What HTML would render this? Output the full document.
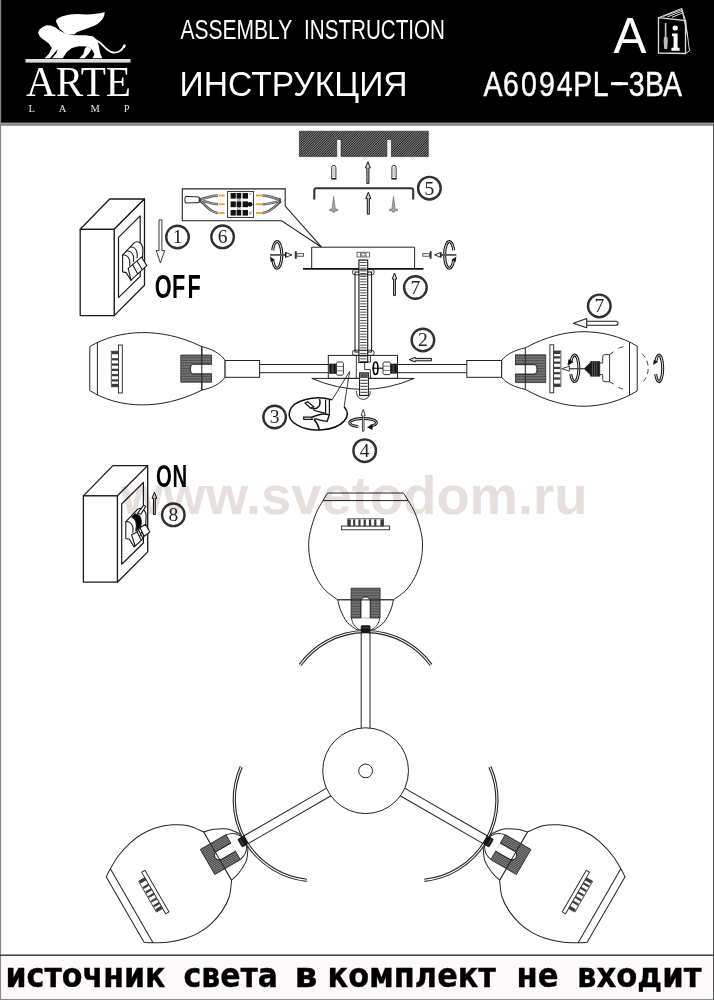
<!DOCTYPE html>
<html lang="ru">
<head>
<meta charset="utf-8">
<title>Assembly Instruction A6094PL-3BA</title>
<style>
html,body{margin:0;padding:0;background:#fff;}
body{width:714px;height:1000px;overflow:hidden;font-family:"Liberation Sans",sans-serif;}
svg{display:block;}
text{font-family:"Liberation Sans",sans-serif;}
.ser{font-family:"Liberation Serif",serif;}
.dj{font-family:"DejaVu Sans",sans-serif;}
.ln{fill:none;stroke:#111;stroke-width:1;}
.lt{fill:none;stroke:#222;stroke-width:0.8;}
.lk{fill:none;stroke:#000;stroke-width:1.4;}
</style>
</head>
<body>
<svg width="714" height="1000" viewBox="0 0 714 1000">
<!-- ===== header band ===== -->
<rect x="0" y="0" width="714" height="123" fill="#000"/>
<rect x="0" y="122.6" width="714" height="2.4" fill="#999"/>
<rect x="0" y="124.7" width="714" height="0.9" fill="#666"/>
<rect x="0" y="0" width="1.1" height="1000" fill="#888"/>
<!-- logo: winged lion -->
<g transform="translate(30,5) scale(0.14706)" fill="#fff" stroke="none">
  <path d="M55,188 L62,170 L85,150 L112,138 L140,140 L170,152 L200,172 L235,192 L300,205 L380,205 L430,214 L458,240 L468,280 L478,330 L492,362 L425,362 L438,335 L420,300 L385,282 L330,280 L285,292 L250,320 L222,362 L150,362 L178,330 L190,300 L170,322 L150,345 L135,362 L100,362 L130,330 L148,292 L128,262 L98,240 L75,222 L62,205 Z"/>
  <path d="M385,282 L420,300 L400,330 L370,362 L335,362 L362,335 L372,300 Z"/>
  <path d="M175,108 C190,82 250,62 320,62 C390,66 450,66 507,48 C510,80 485,118 440,140 C395,160 350,172 318,186 L300,200 L240,196 L200,160 Z"/>
  <path d="M440,238 C500,250 510,322 575,324 C610,322 632,300 640,272" fill="none" stroke="#fff" stroke-width="12"/>
  <ellipse cx="642" cy="280" rx="8" ry="14" transform="rotate(15 642 280)"/>
</g>
<rect x="25.5" y="59" width="105" height="3.6" fill="#ddd"/>
<text class="ser" x="26" y="95.8" font-size="43" fill="#fff" textLength="105" lengthAdjust="spacingAndGlyphs">ARTE</text>
<text class="ser" x="28.5" y="112.3" font-size="10.5" fill="#e8e8e8" textLength="101" lengthAdjust="spacing">LAMP</text>
<!-- titles -->
<text y="39.3" font-size="26.8" fill="#fff"><tspan x="180.4" textLength="111.5" lengthAdjust="spacingAndGlyphs">ASSEMBLY</tspan> <tspan x="304" textLength="141" lengthAdjust="spacingAndGlyphs">INSTRUCTION</tspan></text>
<text x="179.6" y="96" font-size="35.4" fill="#fff" textLength="228" lengthAdjust="spacingAndGlyphs">ИНСТРУКЦИЯ</text>
<g transform="translate(484,95.6) scale(0.79,1)"><text font-size="36" fill="#fff" stroke="#fff" stroke-width="0.45" text-anchor="middle" x="11.4 34.1 56.8 79.5 102.2 125.0 147.7 170.4 193.1 215.9 238.6" y="0 0 0 0 0 0 0 -2.6 0 0 0">A6094PL-3BA</text></g>
<rect x="611" y="82.2" width="17" height="2.9" fill="#fff"/>
<text x="613.4" y="53" font-size="50.5" fill="#fff" textLength="33" lengthAdjust="spacingAndGlyphs">A</text>
<!-- info booklet icon -->
<g fill="none" stroke="#ddd" stroke-width="1">
  <path d="M658.5,17.7 L685.5,20.5 L685.5,53.5 L658.5,53 Z" stroke-width="1.3"/>
  <path d="M658.5,17.7 L681.7,8.5 L685.5,20.5"/>
  <path d="M663,16.5 L681.7,9.8 M667.5,16.8 L682,11.3 M672,17.3 L682.5,13"/>
  <path d="M685.5,20.5 L689.5,50.8 L685.5,53.5"/>
  <path d="M681.7,8.5 L687.6,36"/>
</g>
<g fill="#fff" stroke="none">
  <circle cx="675.2" cy="28" r="2.6"/>
  <path d="M672,33.5 L677.6,33.5 L677.6,47.5 L679.6,48 L679.6,50.8 L671.4,50.8 L671.4,48 L673.6,47.5 L673.6,36.3 L672,36 Z"/>
  <rect x="664.8" y="23" width="1.6" height="14" fill="#ccc"/>
  <path d="M664,37 L667.4,37 L667.8,41 L667.2,49 L664.2,49 L663.6,41 Z" fill="#bbb"/>
</g>

<!-- ===== defs: hatch patterns ===== -->
<defs>
  <pattern id="hatch" width="20" height="1.7" patternUnits="userSpaceOnUse" patternTransform="rotate(-45)">
    <rect width="20" height="1.7" fill="#909090"/>
    <rect width="20" height="0.9" fill="#1c1c1c"/>
  </pattern>
  <pattern id="ribH" width="4" height="1.3" patternUnits="userSpaceOnUse">
    <rect width="4" height="1.3" fill="#9a9a9a"/>
    <rect width="4" height="0.7" fill="#2a2a2a"/>
  </pattern>
  <pattern id="ribV" width="1.3" height="4" patternUnits="userSpaceOnUse">
    <rect width="1.3" height="4" fill="#555"/>
    <rect width="0.8" height="4" fill="#111"/>
  </pattern>
  <pattern id="rod" width="8.8" height="2.75" patternUnits="userSpaceOnUse" x="358.9" y="258.5">
    <rect width="8.8" height="2.75" fill="#fff"/>
    <rect x="1.2" width="6.4" height="0.9" y="0.9" fill="#333"/>
  </pattern>
  <pattern id="rod2" width="8.8" height="3" patternUnits="userSpaceOnUse" x="359.6" y="372.8">
    <rect width="8.8" height="3" fill="#fff"/>
    <rect x="0.8" width="7.2" height="1" y="1" fill="#333"/>
  </pattern>
</defs>
<!-- ===== step 5: ceiling, plugs, bracket, screws ===== -->
<path d="M299.4,131.2 H428.3 V156.6 H391.3 V139.5 H386.9 V156.6 H341 V139.5 H336.8 V156.6 H299.4 Z" fill="url(#hatch)" stroke="#222" stroke-width="0.6"/>
<!-- plastic plugs -->
<g fill="#fff" stroke="#222" stroke-width="0.9">
  <path d="M331.7,178.6 V167.5 Q331.7,165.4 333.8,165.4 Q335.9,165.4 335.9,167.5 V178.6 Z"/>
  <path d="M391.9,178.6 V167.5 Q391.9,165.4 394,165.4 Q396.1,165.4 396.1,167.5 V178.6 Z"/>
</g>
<g stroke="#555" stroke-width="0.5">
  <path d="M332.6,168 h2.4 M332.6,170 h2.4 M332.6,172 h2.4 M332.6,174 h2.4 M332.6,176 h2.4"/>
  <path d="M392.8,168 h2.4 M392.8,170 h2.4 M392.8,172 h2.4 M392.8,174 h2.4 M392.8,176 h2.4"/>
  <path d="M331.2,178.8 h5.2 M391.4,178.8 h5.2" stroke="#111" stroke-width="1.2"/>
</g>
<!-- up arrows -->
<g fill="#d8d8d8" stroke="#111" stroke-width="1">
  <path d="M366.9,183.6 V167.9 H365.4 L367.9,161.8 L370.4,167.9 H368.9 V183.6 Z"/>
  <path d="M367.3,214.2 V198.5 H365.8 L368.3,192.3 L370.8,198.5 H369.3 V214.2 Z"/>
</g>
<!-- bracket -->
<path d="M314.3,199.4 V190.2 Q314.3,188.2 316.3,188.2 H411.2 Q413.2,188.2 413.2,190.2 V199.4" fill="none" stroke="#333" stroke-width="2.1"/>
<!-- screws (grey) -->
<g fill="#a8a8a8" stroke="#6a6a6a" stroke-width="0.7">
  <path d="M333.7,196.5 L335.3,209.2 H337.6 V210.8 H334.6 V212.2 H332.8 V210.8 H329.8 V209.2 H332.1 Z"/>
  <path d="M393.5,196.5 L395.1,209.2 H397.4 V210.8 H394.4 V212.2 H392.6 V210.8 H389.6 V209.2 H391.9 Z"/>
</g>
<!-- ===== step 6: wiring box ===== -->
<path d="M321.6,247.2 L285.2,206 V188.9 H182.3 V220.8 H281.6 Z" fill="#fff" stroke="#222" stroke-width="1.1" stroke-linejoin="miter"/>
<!-- cable + wires left -->
<g fill="none" stroke="#4a4a4a" stroke-width="2.5">
  <path d="M199,199.4 C206,198.6 210,195.6 218,195.5"/>
  <path d="M199,199.9 C206,201 210,204.2 218,204.2"/>
  <path d="M199,200.4 C205,203 209,212.6 218,212.9"/>
  <path d="M262.5,195.5 C270,195.7 275,198.6 281,200"/>
  <path d="M262.5,204.2 C270,204.2 275,202 281,200.6"/>
  <path d="M262.5,212.9 C271,212.6 276,204.6 281,201.2"/>
</g>
<g fill="none" stroke="#d0d0d0" stroke-width="0.8">
  <path d="M201,199.2 C206,198.6 210,195.6 218,195.5"/>
  <path d="M201,200.2 C206,201 210,204.2 218,204.2"/>
  <path d="M201,201.2 C205,203 209,212.6 218,212.9"/>
  <path d="M262.5,195.5 C270,195.7 275,198.6 279,199.6"/>
  <path d="M262.5,204.2 C270,204.2 275,202 279,200.9"/>
  <path d="M262.5,212.9 C271,212.6 276,204.6 279,202.2"/>
</g>
<path d="M185.4,196.4 L199.2,197 V202.6 L185.4,203 Q184.2,199.7 185.4,196.4 Z" fill="#fff" stroke="#222" stroke-width="1"/>
<g stroke="#eaa646" stroke-width="2" fill="none">
  <path d="M218.6,195.5 h6 M218.6,204.2 h6 M218.6,212.9 h6 M256,195.5 h6.5 M256,204.2 h6.5 M256,212.9 h6.5"/>
</g>
<!-- terminal block -->
<rect x="227.6" y="191.4" width="25.8" height="26" fill="#fff" stroke="#222" stroke-width="0.9"/>
<g fill="#111">
  <rect x="230.6" y="193" width="5.2" height="5.6"/><rect x="236.6" y="193" width="4.6" height="5.6"/><rect x="242.6" y="193" width="5.4" height="5.6"/>
  <rect x="230.6" y="201.4" width="5.2" height="5.8"/><rect x="236.6" y="201.4" width="4.6" height="5.8"/><rect x="242.6" y="201.4" width="5.4" height="5.8"/>
  <rect x="230.6" y="210" width="5.2" height="5.6"/><rect x="236.6" y="210" width="4.6" height="5.6"/><rect x="242.6" y="210" width="5.4" height="5.6"/>
  <circle cx="250" cy="204.3" r="2.4"/>
</g>
<g fill="#fff" stroke="#111" stroke-width="0.5">
  <circle cx="238.9" cy="200" r="1.3"/><circle cx="238.9" cy="208.6" r="1.3"/>
</g>
<path d="M249,194.5 l2.6,-1.4 M249,213 l2.6,-1.4 M249,214.6 l2.6,-1.4" stroke="#333" stroke-width="0.6" fill="none"/>
<!-- ===== canopy ===== -->
<path d="M311.7,268.6 V247.2 H414.6 V268.6" fill="#fff" stroke="#222" stroke-width="1"/>
<path d="M303,268.9 H423.5" stroke="#111" stroke-width="1.7" fill="none"/>
<!-- nut inside canopy -->
<g fill="#fff" stroke="#333" stroke-width="0.7">
  <rect x="357" y="252.2" width="12.6" height="4.8"/>
  <path d="M360.6,252.2 v4.8 M366,252.2 v4.8"/>
  <ellipse cx="363.3" cy="254.6" rx="2" ry="1.6"/>
</g>
<!-- rotate + screw, left -->
<g><path d="M272.69,250.30 A4.70,13.30 0 1 1 272.64,259.10" fill="none" stroke="#111" stroke-width="3.0"/><path d="M272.69,250.30 A4.70,13.30 0 1 1 272.64,259.10" fill="none" stroke="#fff" stroke-width="0.9"/><path d="M270.0,256.5 L274.6,259.7 L270.8,261.9 Z" fill="#111"/>
<path d="M270,254.9 H286" stroke="#555" stroke-width="1.8" fill="none"/>
<path d="M286,252.6 L291.8,254.9 L286,257.2 Z" fill="#fff" stroke="#111" stroke-width="0.9"/>
<path d="M285.4,252 v5.8" stroke="#111" stroke-width="1" fill="none"/>
<path d="M295.8,251.2 V258.7" stroke="#333" stroke-width="2" fill="none"/>
<rect x="296.9" y="253.7" width="6.7" height="2.5" fill="#fff" stroke="#333" stroke-width="0.8"/></g>
<!-- rotate + screw, right (mirrored) -->
<g transform="translate(726.4,0) scale(-1,1)"><path d="M272.69,250.30 A4.70,13.30 0 1 1 272.64,259.10" fill="none" stroke="#111" stroke-width="3.0"/><path d="M272.69,250.30 A4.70,13.30 0 1 1 272.64,259.10" fill="none" stroke="#fff" stroke-width="0.9"/><path d="M270.0,256.5 L274.6,259.7 L270.8,261.9 Z" fill="#111"/>
<path d="M270,254.9 H286" stroke="#555" stroke-width="1.8" fill="none"/>
<path d="M286,252.6 L291.8,254.9 L286,257.2 Z" fill="#fff" stroke="#111" stroke-width="0.9"/>
<path d="M285.4,252 v5.8" stroke="#111" stroke-width="1" fill="none"/>
<path d="M295.8,251.2 V258.7" stroke="#333" stroke-width="2" fill="none"/>
<rect x="296.9" y="253.7" width="6.7" height="2.5" fill="#fff" stroke="#333" stroke-width="0.8"/></g>
<!-- arrow 7 up -->
<path d="M393.6,295.6 V279 H392.2 L394.5,273 L396.8,279 H395.4 V295.6 Z" fill="#d8d8d8" stroke="#111" stroke-width="1"/>
<!-- ===== threaded rod + tube ===== -->
<rect x="355" y="272" width="16.6" height="80" fill="#fff" stroke="#111" stroke-width="1"/>
<rect x="358.9" y="260" width="8.8" height="102.5" fill="url(#rod)" stroke="#111" stroke-width="1.1"/>
<rect x="352.4" y="269.6" width="21.8" height="5.2" rx="2.6" fill="none" stroke="#222" stroke-width="0.9"/>
<rect x="352.4" y="350.2" width="21.8" height="5.2" rx="2.6" fill="none" stroke="#222" stroke-width="0.9"/>
<!-- ===== center body ===== -->
<path d="M311.8,378.4 H414.3 Q363,400.4 311.8,378.4 Z" fill="#fff" stroke="#222" stroke-width="1"/>
<rect x="328.3" y="355.4" width="69.2" height="23" fill="none" stroke="#222" stroke-width="1"/>
<path d="M356.3,355.4 V378.4 M370.4,355.4 V362 H364.7 V369.6 H370.4 V378.4" fill="none" stroke="#222" stroke-width="0.9"/>
<!-- arms -->
<path d="M259.6,364.5 H328.3 M259.6,372.7 H328.3 M397.5,364.5 H466.8 M397.5,372.7 H466.8" fill="none" stroke="#222" stroke-width="1"/>
<!-- nuts + threads -->
<rect x="329.5" y="364" width="7" height="9.4" fill="url(#ribV)" stroke="#111" stroke-width="0.6"/>
<rect x="390.6" y="364" width="7" height="9.2" fill="url(#ribV)" stroke="#111" stroke-width="0.6"/>
<g fill="#fff" stroke="#222" stroke-width="0.9">
  <path d="M337.4,362 H342.4 L343.4,363.4 V373.8 L342.4,375.2 H337.4 L336.4,373.8 V363.4 Z"/>
  <path d="M384,362 H389.6 L390.6,363.4 V373.2 L389.6,374.6 H384 L383,373.2 V363.4 Z"/>
  <path d="M336.4,366.4 H343.4 M336.4,370.8 H343.4 M383,366.2 H390.6 M383,370.4 H390.6" stroke-width="0.6"/>
</g>
<ellipse cx="375.6" cy="368.2" rx="2.3" ry="6.2" fill="none" stroke="#000" stroke-width="1.7"/>
<path d="M372,368.2 H383" stroke="#000" stroke-width="1.1"/>
<!-- lower screw + cap -->
<path d="M356.6,391 V392.6 A6.8,6.8 0 0 0 370.2,392.6 V391" fill="#fff" stroke="#222" stroke-width="0.9"/>
<rect x="359.6" y="372.8" width="8.8" height="22.8" fill="url(#rod2)" stroke="#111" stroke-width="1"/>
<rect x="360.2" y="373.2" width="7.6" height="4.6" fill="#555"/>
<!-- callout to 3 -->
<path d="M349.6,371.5 L332,399.9 M349.6,371.5 L344.1,406.8" fill="none" stroke="#222" stroke-width="0.9"/>
<!-- arrow 2 (left) -->
<path d="M431.4,358.4 H415.2 V357.2 L409.2,359.6 L415.2,362 V360.8 H431.4 Z" fill="#e0e0e0" stroke="#111" stroke-width="1"/>
<!-- ===== detail oval 3 ===== -->
<path d="M332,399.9 A29,16 0 1 0 344.1,406.8" fill="#fff" stroke="#111" stroke-width="1.5"/>
<g fill="none" stroke="#111" stroke-width="1.25">
  <path d="M325.6,399.6 V413.4 M329.4,399.2 V413.8"/>
  <path d="M305.2,403.2 L311,408.4 L313.6,406.6 L307.6,401.8 Z" fill="#fff"/>
  <path d="M319.6,399.2 C320.6,403.6 319.6,407 316.6,408.2 C314.4,409 312.6,408.4 311,407.4" stroke-width="1.5"/>
  <path d="M313,409.6 C316,411.6 320,412.2 325.6,413.2"/>
  <path d="M303.6,417 H311.6 L312.2,419.4 H303.8 Z" fill="#fff"/>
  <path d="M312,417.2 C316,415.6 320,413.8 324,414 C327,414.2 329,414.6 329.4,414.6 C328.6,417 328,419.4 327,421.4 C323,420.8 318,419.6 314.4,418.6" stroke-width="1.4"/>
  <path d="M313.8,419.2 C316.6,422 318.4,425.6 319.4,429.8" stroke-width="1.5"/>
</g>
<!-- ===== rotate symbol 4 ===== -->
<g fill="none" stroke="#111">
  <path d="M358.2,426.6 A13.4,4.2 0 1 1 370.4,426.2" stroke-width="2.9"/>
  <path d="M358.2,426.6 A13.4,4.2 0 1 1 370.4,426.2" stroke="#fff" stroke-width="0.8"/>
  <path d="M367.6,427.2 L372.4,424.4 L372.2,429.6 Z" fill="#111" stroke-width="0.6"/>
  <path d="M362.4,431.2 V415.4 H361.2 L363.2,409.4 L365.2,415.4 H364 V431.2 Z" fill="#fff" stroke-width="0.8"/>
</g>

<!-- ===== switch OFF (step 1) ===== -->
<g fill="#fff" stroke="#1a1a1a" stroke-width="1.3" stroke-linejoin="round">
  <path d="M80.2,229.3 L109.7,199 H144.5 L114.2,229.3 Z"/>
  <path d="M114.2,229.3 L144.5,199 V285.3 L114.2,315.6 Z"/>
  <rect x="80.2" y="229.3" width="34" height="86.3"/>
  <path d="M118.5,237.4 L140.2,215.9 V276.4 L118.5,297.6 Z" stroke-width="1.2"/>
</g>
<g fill="#fff" stroke="#1a1a1a" stroke-width="1.1" stroke-linejoin="round">
  <path d="M122.6,255.1 L133.8,243.2 C136,241 139,241.4 141,243.6 C142.6,245.6 143.2,248 142.8,251 L142.6,257.6 L131,280.3 L126.1,272.6 L122.6,271.9 Z"/>
  <path d="M122.6,255.1 C125.6,254.6 128.4,256.6 129.4,259.6 C130,261.6 130,263.6 129.6,266" fill="none"/>
  <path d="M126.4,251.2 C129.4,250.6 132.2,252.6 133.2,255.6 C133.8,257.6 133.8,259.6 133.4,262" fill="none"/>
  <path d="M130,247.2 C133,246.6 135.8,248.6 136.8,251.6 C137.4,253.6 137.4,255.6 137,258" fill="none"/>
  <path d="M128.2,268.4 L141.5,257.2 L146.8,265.6 L133.1,278.2 L131,280.3 Z"/>
  <path d="M132.6,264.7 L137.8,274 M137,261 L142.3,269.8" fill="none"/>
</g>
<!-- arrow 1 (down) -->
<path d="M159,219.9 H161.9 V250.6 H164.7 L160.4,262.9 L156.2,250.6 H159 Z" fill="#fff" stroke="#222" stroke-width="0.9"/>
<g transform="scale(0.67,1)"><text x="243.4 266.6 289.9" y="297.7" font-size="32.4" font-weight="bold" text-anchor="middle" fill="#000">OFF</text></g>
<!-- ===== switch ON (step 8) ===== -->
<g transform="translate(3.2,266.6)">
<g fill="#fff" stroke="#1a1a1a" stroke-width="1.3" stroke-linejoin="round">
  <path d="M80.2,229.3 L109.7,199 H144.5 L114.2,229.3 Z"/>
  <path d="M114.2,229.3 L144.5,199 V285.3 L114.2,315.6 Z"/>
  <rect x="80.2" y="229.3" width="34" height="86.3"/>
  <path d="M118.5,237.4 L140.2,215.9 V276.4 L118.5,297.6 Z" stroke-width="1.2" fill="none"/>
</g>
<g fill="#fff" stroke="#1a1a1a" stroke-width="1.1" stroke-linejoin="round">
  <path d="M122.6,255.1 L133.8,243.2 C136,241 139,241.4 141,243.6 C142.6,245.6 143.2,248 142.8,251 L142.6,257.6 L131,280.3 L126.1,272.6 L122.6,271.9 Z"/>
  <path d="M122.6,255.1 C125.6,254.6 128.4,256.6 129.4,259.6 C130,261.6 130,263.6 129.6,266" fill="none"/>
  <path d="M131.6,247.4 C135,247 137.6,250 138,253.6 C138.2,256 138,258 137.4,260 L132.6,264.4 C133.6,259 133.4,252 128.6,250.6 Z" fill="#000"/>
  <path d="M134.4,246.6 L140.6,238.6 L142.6,239.8 L137.6,247.6 Z"/>
  <path d="M128.4,268.2 L134,265.4 L138.2,273.8 L131.9,279.4 Z"/>
  <path d="M136.8,261.2 L142.4,257.7 L146.6,265.4 L141,269.6 Z"/>
  <path d="M134,265.4 L136.8,261.2 M138.2,273.8 L141,269.6 M135.6,264 L139.8,272 " fill="none"/>
</g>
</g>
<!-- arrow 8 (up) -->
<path d="M153.5,514.5 V498.4 H152 L154.4,492.1 L156.8,498.4 H155.3 V514.5 Z" fill="#d8d8d8" stroke="#111" stroke-width="1"/>
<g transform="scale(0.65,1)"><text x="252.3 276.5" y="486.9" font-size="31.3" font-weight="bold" text-anchor="middle" fill="#000">ON</text></g>

<!-- ===== left shade (side view) ===== -->
<g fill="none" stroke="#222" stroke-width="1">
  <path d="M201.8,346.6 C180,336 160,332.4 141.6,332.6 C122,332.8 104,338 89.8,346.6 V390.6 C104,399.6 122,404.8 141.6,404.9 C160,405 180,401 201.8,390.2" fill="#fff"/>
  <path d="M97.4,342.4 V394.8"/>
  <path d="M201.8,346.6 V390.2"/>
  <path d="M201.8,346.6 C212,349 220.6,353.6 225.1,360.5 V377.3 C220.6,383.6 212,388 201.8,390.2"/>
  <rect x="225.1" y="360.5" width="34.5" height="16.8" fill="#fff"/>
</g>
<!-- socket -->
<path d="M180.8,355 H211.6 V364.3 H193.4 A2.9,4.75 0 0 0 193.4,373.8 H211.6 V382.2 H180.8 Z" fill="#8c8c8c" stroke="#111" stroke-width="0.7"/>
<path d="M180.8,355.8 H211.6 M180.8,357.4 H211.6 M180.8,359.0 H211.6 M180.8,360.6 H211.6 M180.8,362.2 H211.6 M180.8,363.8 H211.6 M180.8,365.4 H211.6 M180.8,367.0 H211.6 M180.8,368.6 H211.6 M180.8,370.2 H211.6 M180.8,371.8 H211.6 M180.8,373.4 H211.6 M180.8,375.0 H211.6 M180.8,376.6 H211.6 M180.8,378.2 H211.6 M180.8,379.8 H211.6 M180.8,381.4 H211.6 " stroke="#333" stroke-width="0.7" fill="none"/>
<path d="M211.6,364.3 H193.4 A2.9,4.75 0 0 0 193.4,373.8 H211.6" fill="#fff" stroke="#111" stroke-width="0.8"/>
<path d="M201.8,346.6 V390.2" fill="none" stroke="#222" stroke-width="1"/>
<!-- LED module -->
<g transform="translate(118.5,369) rotate(-90)"><rect x="-24" y="0" width="48" height="3.8" fill="#fff" stroke="#222" stroke-width="0.9"/><rect x="-17.8" y="-7.2" width="35.6" height="7.2" fill="#fff" stroke="#333" stroke-width="0.8"/><rect x="-17.80" y="-6.6" width="3.0" height="6.6" fill="#3a3a3a"/><rect x="-12.52" y="-6.6" width="2.2" height="6.6" fill="#3a3a3a"/><rect x="-7.24" y="-6.6" width="2.2" height="6.6" fill="#3a3a3a"/><rect x="-1.96" y="-6.6" width="2.2" height="6.6" fill="#3a3a3a"/><rect x="3.32" y="-6.6" width="2.2" height="6.6" fill="#3a3a3a"/><rect x="8.60" y="-6.6" width="2.2" height="6.6" fill="#3a3a3a"/><rect x="14.80" y="-6.6" width="3.0" height="6.6" fill="#3a3a3a"/></g>
<!-- ===== right shade (side view) ===== -->
<g fill="none" stroke="#222" stroke-width="1">
  <path d="M525.3,347.8 C546,336.6 566,331.8 583,331.7 C603,331.6 622,337 637.2,346.2 V390.9 C622,400.4 603,406.2 583,406.3 C566,406.2 546,401 525.3,389.4" fill="#fff"/>
  <path d="M629.5,342.4 V395"/>
  <path d="M525.3,347.8 C515,350 506,354.4 501.6,360.5 V377.3 C506,383 515,387.4 525.3,389.4"/>
  <rect x="466.8" y="360.5" width="34.8" height="16.8" fill="#fff"/>
</g>
<!-- socket -->
<path d="M545.7,354.8 H515.5 V364.7 H534 A2.9,4.65 0 0 1 534,374 H515.5 V382.6 H545.7 Z" fill="#8c8c8c" stroke="#111" stroke-width="0.7"/>
<path d="M515.5,355.6 H545.7 M515.5,357.2 H545.7 M515.5,358.8 H545.7 M515.5,360.4 H545.7 M515.5,362.0 H545.7 M515.5,363.6 H545.7 M515.5,365.2 H545.7 M515.5,366.8 H545.7 M515.5,368.4 H545.7 M515.5,370.0 H545.7 M515.5,371.6 H545.7 M515.5,373.2 H545.7 M515.5,374.8 H545.7 M515.5,376.4 H545.7 M515.5,378.0 H545.7 M515.5,379.6 H545.7 M515.5,381.2 H545.7 " stroke="#333" stroke-width="0.7" fill="none"/>
<path d="M515.5,364.7 H534 A2.9,4.65 0 0 1 534,374 H515.5" fill="#fff" stroke="#111" stroke-width="0.8"/>
<path d="M525.3,347.8 V389.4" fill="none" stroke="#222" stroke-width="1"/>
<!-- LED module -->
<g transform="translate(553.7,368.8) rotate(90)"><rect x="-24" y="0" width="48" height="3.8" fill="#fff" stroke="#222" stroke-width="0.9"/><rect x="-17.8" y="-7.2" width="35.6" height="7.2" fill="#fff" stroke="#333" stroke-width="0.8"/><rect x="-17.80" y="-6.6" width="3.0" height="6.6" fill="#3a3a3a"/><rect x="-12.52" y="-6.6" width="2.2" height="6.6" fill="#3a3a3a"/><rect x="-7.24" y="-6.6" width="2.2" height="6.6" fill="#3a3a3a"/><rect x="-1.96" y="-6.6" width="2.2" height="6.6" fill="#3a3a3a"/><rect x="3.32" y="-6.6" width="2.2" height="6.6" fill="#3a3a3a"/><rect x="8.60" y="-6.6" width="2.2" height="6.6" fill="#3a3a3a"/><rect x="14.80" y="-6.6" width="3.0" height="6.6" fill="#3a3a3a"/></g>
<!-- small arrow + rotate -->
<g fill="none" stroke="#111">
<path d="M570.74,362.50 A4.30,13.20 0 1 1 570.74,374.10" fill="none" stroke="#111" stroke-width="3.0"/><path d="M570.74,362.50 A4.30,13.20 0 1 1 570.74,374.10" fill="none" stroke="#fff" stroke-width="0.9"/><path d="M568.1,365.1 L572.7,361.9 L568.9,359.7 Z" fill="#111"/>
  <path d="M568,368.7 H584" stroke="#444" stroke-width="1.3"/>
  <path d="M569.4,366.2 L561.8,368.7 L569.4,371.2 Z" fill="#fff" stroke-width="0.8"/>
</g>
<!-- bulb base + neck -->
<path d="M584.1,368.7 L590.6,362.4 V361.5 H599.8 V376.2 H590.6 V375 Z" fill="#1a1a1a" stroke="#111" stroke-width="0.6"/>
<path d="M592.4,361.5 V376.2 M594.6,361.5 V376.2 M596.8,361.5 V376.2" stroke="#999" stroke-width="0.5" fill="none"/>
<g fill="#fff" stroke="#222" stroke-width="0.9">
  <path d="M599.8,363 H602.7 V357 Q602.7,354.6 605,354.6 H609.6 L613.5,351.7 M609.6,354.6 V381.7 M613.5,384 L609.6,381.7 H605 Q602.7,381.7 602.7,379.4 V374.6 H599.8"/>
</g>
<!-- dashed bulb glass -->
<g fill="none" stroke="#333" stroke-width="0.9" stroke-dasharray="5 3.6">
  <path d="M618.4,348.3 C621,347.2 623.6,346.4 626.3,345.8"/>
  <path d="M618.4,387.5 C621,388.6 623.6,389.4 626.3,390"/>
  <path d="M642,353.6 C646.4,358 648.2,363 648.2,368.3 C648.2,373.6 646.4,378.6 642,383"/>
</g>
<!-- rotate symbol right -->
<path d="M655.68,362.50 A3.70,13.20 0 1 1 655.68,374.10" fill="none" stroke="#111" stroke-width="3.0"/><path d="M655.68,362.50 A3.70,13.20 0 1 1 655.68,374.10" fill="none" stroke="#fff" stroke-width="0.9"/><path d="M653.1,365.1 L657.7,361.9 L653.9,359.7 Z" fill="#111"/>
<!-- arrow 7 (left) -->
<path d="M586.7,321.3 H616 Q618,321.3 618,323.3 Q618,325.3 616,325.3 H586.7" fill="#fff" stroke="#222" stroke-width="1.1"/>
<path d="M573.4,323.2 L586.7,318.6 V327.8 Z" fill="#fff" stroke="#222" stroke-width="1.1" stroke-linejoin="round"/>

<!-- ===== bottom: three-arm top view ===== -->
<g transform="translate(365.6,770.7) rotate(0)">
  <path d="M-66.4,-106.3 A81.9,81.9 0 0 1 66.4,-106.3" fill="none" stroke="#222" stroke-width="1.1"/>
  <path d="M-64.7,-105.0 A79.8,79.8 0 0 1 64.7,-105.0" fill="none" stroke="#222" stroke-width="1.1"/>
</g>
<g transform="translate(365.6,770.7) rotate(120)">
  <path d="M-66.4,-106.3 A81.9,81.9 0 0 1 66.4,-106.3" fill="none" stroke="#222" stroke-width="1.1"/>
  <path d="M-64.7,-105.0 A79.8,79.8 0 0 1 64.7,-105.0" fill="none" stroke="#222" stroke-width="1.1"/>
</g>
<g transform="translate(365.6,770.7) rotate(240)">
  <path d="M-66.4,-106.3 A81.9,81.9 0 0 1 66.4,-106.3" fill="none" stroke="#222" stroke-width="1.1"/>
  <path d="M-64.7,-105.0 A79.8,79.8 0 0 1 64.7,-105.0" fill="none" stroke="#222" stroke-width="1.1"/>
</g>
<g transform="translate(365.6,770.7) rotate(0)">
  <path d="M-4.4,-138.3 V-42.4 M4.4,-138.3 V-42.4" fill="none" stroke="#222" stroke-width="1"/>
  <path d="M-37.9,-277.7 C-38.7,-276.4 -40.6,-273.5 -42.6,-270.1 C-44.6,-266.7 -47.6,-262.2 -49.7,-257.1 C-51.8,-252.0 -54.1,-244.4 -55.3,-239.2 C-56.5,-234.0 -56.9,-230.6 -56.9,-225.7 C-56.9,-220.8 -56.5,-215.2 -55.3,-210.0 C-54.1,-204.8 -52.1,-199.2 -49.7,-194.3 C-47.3,-189.5 -44.4,-184.8 -40.8,-180.9 C-37.1,-177.0 -30.0,-172.5 -27.8,-170.8 L27.8,-170.8 C30.0,-172.5 37.1,-177.0 40.8,-180.9 C44.4,-184.8 47.3,-189.5 49.7,-194.3 C52.1,-199.2 54.1,-204.8 55.3,-210.0 C56.5,-215.2 56.9,-220.8 56.9,-225.7 C56.9,-230.6 56.5,-234.0 55.3,-239.2 C54.1,-244.4 51.8,-252.0 49.7,-257.1 C47.6,-262.2 44.6,-266.7 42.6,-270.1 C40.6,-273.5 38.7,-276.4 37.9,-277.7 Z" fill="#fff" stroke="#222" stroke-width="1"/>
  <path d="M-42.6,-270.1 H42.6" fill="none" stroke="#222" stroke-width="1"/>
  <path d="M-27.8,-170.8 C-27.4,-169.1 -26.7,-164.4 -25.1,-160.7 C-23.5,-157.0 -21.1,-151.7 -18.4,-148.4 C-15.6,-145.1 -10.2,-142.1 -8.6,-140.8 L8.6,-140.8 C10.2,-142.1 15.6,-145.1 18.4,-148.4 C21.1,-151.7 23.5,-157.0 25.1,-160.7 C26.7,-164.4 27.4,-169.1 27.8,-170.8" fill="#fff" stroke="#222" stroke-width="1"/>
  <path d="M-14.5,-182.5 H14.5 V-152.9 H4.6 V-169.1 A4.6,4.6 0 0 0 -4.6,-169.1 V-152.9 H-14.5 Z" fill="#8c8c8c" stroke="#111" stroke-width="0.7"/>
  <path d="M-14.5,-181.7 H14.5 M-14.5,-180.1 H14.5 M-14.5,-178.5 H14.5 M-14.5,-176.9 H14.5 M-14.5,-175.3 H14.5 M-14.5,-173.7 H14.5 M-14.5,-172.1 H14.5 M-14.5,-170.5 H14.5 M-14.5,-168.9 H14.5 M-14.5,-167.3 H14.5 M-14.5,-165.7 H14.5 M-14.5,-164.1 H14.5 M-14.5,-162.5 H14.5 M-14.5,-160.9 H14.5 M-14.5,-159.3 H14.5 M-14.5,-157.7 H14.5 M-14.5,-156.1 H14.5 M-14.5,-154.5 H14.5 M-14.5,-152.9 H14.5 " fill="none" stroke="#333" stroke-width="0.7"/>
  <path d="M-4.6,-152.9 V-169.1 A4.6,4.6 0 0 1 4.6,-169.1 V-152.9" fill="#fff" stroke="#111" stroke-width="0.8"/>
  <path d="M-27.8,-170.8 H27.8" fill="none" stroke="#222" stroke-width="1"/>
  <path d="M-14.1,-152.9 C-13.6,-147.6 -10.6,-143.4 -6.4,-141.2 M14.1,-152.9 C13.6,-147.6 10.6,-143.4 6.4,-141.2" fill="none" stroke="#222" stroke-width="0.9"/>
  <rect x="-4.5" y="-145.1" width="9" height="6.9" rx="1" fill="#161616" stroke="#111" stroke-width="0.6"/>
  <path d="M-3.4,-143 H3.4" stroke="#777" stroke-width="0.5" fill="none"/>
  <g transform="translate(0,-244.7)"><rect x="-24" y="0" width="48" height="3.8" fill="#fff" stroke="#222" stroke-width="0.9"/><rect x="-17.8" y="-7.2" width="35.6" height="7.2" fill="#fff" stroke="#333" stroke-width="0.8"/><rect x="-17.80" y="-6.6" width="3.0" height="6.6" fill="#3a3a3a"/><rect x="-12.52" y="-6.6" width="2.2" height="6.6" fill="#3a3a3a"/><rect x="-7.24" y="-6.6" width="2.2" height="6.6" fill="#3a3a3a"/><rect x="-1.96" y="-6.6" width="2.2" height="6.6" fill="#3a3a3a"/><rect x="3.32" y="-6.6" width="2.2" height="6.6" fill="#3a3a3a"/><rect x="8.60" y="-6.6" width="2.2" height="6.6" fill="#3a3a3a"/><rect x="14.80" y="-6.6" width="3.0" height="6.6" fill="#3a3a3a"/></g>
</g>
<g transform="translate(365.6,770.7) rotate(120)">
  <path d="M-4.4,-138.3 V-42.4 M4.4,-138.3 V-42.4" fill="none" stroke="#222" stroke-width="1"/>
  <path d="M-37.9,-277.7 C-38.7,-276.4 -40.6,-273.5 -42.6,-270.1 C-44.6,-266.7 -47.6,-262.2 -49.7,-257.1 C-51.8,-252.0 -54.1,-244.4 -55.3,-239.2 C-56.5,-234.0 -56.9,-230.6 -56.9,-225.7 C-56.9,-220.8 -56.5,-215.2 -55.3,-210.0 C-54.1,-204.8 -52.1,-199.2 -49.7,-194.3 C-47.3,-189.5 -44.4,-184.8 -40.8,-180.9 C-37.1,-177.0 -30.0,-172.5 -27.8,-170.8 L27.8,-170.8 C30.0,-172.5 37.1,-177.0 40.8,-180.9 C44.4,-184.8 47.3,-189.5 49.7,-194.3 C52.1,-199.2 54.1,-204.8 55.3,-210.0 C56.5,-215.2 56.9,-220.8 56.9,-225.7 C56.9,-230.6 56.5,-234.0 55.3,-239.2 C54.1,-244.4 51.8,-252.0 49.7,-257.1 C47.6,-262.2 44.6,-266.7 42.6,-270.1 C40.6,-273.5 38.7,-276.4 37.9,-277.7 Z" fill="#fff" stroke="#222" stroke-width="1"/>
  <path d="M-42.6,-270.1 H42.6" fill="none" stroke="#222" stroke-width="1"/>
  <path d="M-27.8,-170.8 C-27.4,-169.1 -26.7,-164.4 -25.1,-160.7 C-23.5,-157.0 -21.1,-151.7 -18.4,-148.4 C-15.6,-145.1 -10.2,-142.1 -8.6,-140.8 L8.6,-140.8 C10.2,-142.1 15.6,-145.1 18.4,-148.4 C21.1,-151.7 23.5,-157.0 25.1,-160.7 C26.7,-164.4 27.4,-169.1 27.8,-170.8" fill="#fff" stroke="#222" stroke-width="1"/>
  <path d="M-14.5,-182.5 H14.5 V-152.9 H4.6 V-169.1 A4.6,4.6 0 0 0 -4.6,-169.1 V-152.9 H-14.5 Z" fill="#8c8c8c" stroke="#111" stroke-width="0.7"/>
  <path d="M-13.7,-182.5 V-152.9 M-12.1,-182.5 V-152.9 M-10.5,-182.5 V-152.9 M-8.9,-182.5 V-152.9 M-7.3,-182.5 V-152.9 M-5.7,-182.5 V-152.9 M-4.1,-182.5 V-152.9 M-2.5,-182.5 V-152.9 M-0.9,-182.5 V-152.9 M0.7,-182.5 V-152.9 M2.3,-182.5 V-152.9 M3.9,-182.5 V-152.9 M5.5,-182.5 V-152.9 M7.1,-182.5 V-152.9 M8.7,-182.5 V-152.9 M10.3,-182.5 V-152.9 M11.9,-182.5 V-152.9 M13.5,-182.5 V-152.9 " fill="none" stroke="#333" stroke-width="0.7"/>
  <path d="M-4.6,-152.9 V-169.1 A4.6,4.6 0 0 1 4.6,-169.1 V-152.9" fill="#fff" stroke="#111" stroke-width="0.8"/>
  <path d="M-27.8,-170.8 H27.8" fill="none" stroke="#222" stroke-width="1"/>
  <path d="M-14.1,-152.9 C-13.6,-147.6 -10.6,-143.4 -6.4,-141.2 M14.1,-152.9 C13.6,-147.6 10.6,-143.4 6.4,-141.2" fill="none" stroke="#222" stroke-width="0.9"/>
  <rect x="-4.5" y="-145.1" width="9" height="6.9" rx="1" fill="#161616" stroke="#111" stroke-width="0.6"/>
  <path d="M-3.4,-143 H3.4" stroke="#777" stroke-width="0.5" fill="none"/>
  <g transform="translate(0,-244.7)"><rect x="-24" y="0" width="48" height="3.8" fill="#fff" stroke="#222" stroke-width="0.9"/><rect x="-17.8" y="-7.2" width="35.6" height="7.2" fill="#fff" stroke="#333" stroke-width="0.8"/><rect x="-17.80" y="-6.6" width="3.0" height="6.6" fill="#3a3a3a"/><rect x="-12.52" y="-6.6" width="2.2" height="6.6" fill="#3a3a3a"/><rect x="-7.24" y="-6.6" width="2.2" height="6.6" fill="#3a3a3a"/><rect x="-1.96" y="-6.6" width="2.2" height="6.6" fill="#3a3a3a"/><rect x="3.32" y="-6.6" width="2.2" height="6.6" fill="#3a3a3a"/><rect x="8.60" y="-6.6" width="2.2" height="6.6" fill="#3a3a3a"/><rect x="14.80" y="-6.6" width="3.0" height="6.6" fill="#3a3a3a"/></g>
</g>
<g transform="translate(365.6,770.7) rotate(240)">
  <path d="M-4.4,-138.3 V-42.4 M4.4,-138.3 V-42.4" fill="none" stroke="#222" stroke-width="1"/>
  <path d="M-37.9,-277.7 C-38.7,-276.4 -40.6,-273.5 -42.6,-270.1 C-44.6,-266.7 -47.6,-262.2 -49.7,-257.1 C-51.8,-252.0 -54.1,-244.4 -55.3,-239.2 C-56.5,-234.0 -56.9,-230.6 -56.9,-225.7 C-56.9,-220.8 -56.5,-215.2 -55.3,-210.0 C-54.1,-204.8 -52.1,-199.2 -49.7,-194.3 C-47.3,-189.5 -44.4,-184.8 -40.8,-180.9 C-37.1,-177.0 -30.0,-172.5 -27.8,-170.8 L27.8,-170.8 C30.0,-172.5 37.1,-177.0 40.8,-180.9 C44.4,-184.8 47.3,-189.5 49.7,-194.3 C52.1,-199.2 54.1,-204.8 55.3,-210.0 C56.5,-215.2 56.9,-220.8 56.9,-225.7 C56.9,-230.6 56.5,-234.0 55.3,-239.2 C54.1,-244.4 51.8,-252.0 49.7,-257.1 C47.6,-262.2 44.6,-266.7 42.6,-270.1 C40.6,-273.5 38.7,-276.4 37.9,-277.7 Z" fill="#fff" stroke="#222" stroke-width="1"/>
  <path d="M-42.6,-270.1 H42.6" fill="none" stroke="#222" stroke-width="1"/>
  <path d="M-27.8,-170.8 C-27.4,-169.1 -26.7,-164.4 -25.1,-160.7 C-23.5,-157.0 -21.1,-151.7 -18.4,-148.4 C-15.6,-145.1 -10.2,-142.1 -8.6,-140.8 L8.6,-140.8 C10.2,-142.1 15.6,-145.1 18.4,-148.4 C21.1,-151.7 23.5,-157.0 25.1,-160.7 C26.7,-164.4 27.4,-169.1 27.8,-170.8" fill="#fff" stroke="#222" stroke-width="1"/>
  <path d="M-14.5,-182.5 H14.5 V-152.9 H4.6 V-169.1 A4.6,4.6 0 0 0 -4.6,-169.1 V-152.9 H-14.5 Z" fill="#8c8c8c" stroke="#111" stroke-width="0.7"/>
  <path d="M-13.7,-182.5 V-152.9 M-12.1,-182.5 V-152.9 M-10.5,-182.5 V-152.9 M-8.9,-182.5 V-152.9 M-7.3,-182.5 V-152.9 M-5.7,-182.5 V-152.9 M-4.1,-182.5 V-152.9 M-2.5,-182.5 V-152.9 M-0.9,-182.5 V-152.9 M0.7,-182.5 V-152.9 M2.3,-182.5 V-152.9 M3.9,-182.5 V-152.9 M5.5,-182.5 V-152.9 M7.1,-182.5 V-152.9 M8.7,-182.5 V-152.9 M10.3,-182.5 V-152.9 M11.9,-182.5 V-152.9 M13.5,-182.5 V-152.9 " fill="none" stroke="#333" stroke-width="0.7"/>
  <path d="M-4.6,-152.9 V-169.1 A4.6,4.6 0 0 1 4.6,-169.1 V-152.9" fill="#fff" stroke="#111" stroke-width="0.8"/>
  <path d="M-27.8,-170.8 H27.8" fill="none" stroke="#222" stroke-width="1"/>
  <path d="M-14.1,-152.9 C-13.6,-147.6 -10.6,-143.4 -6.4,-141.2 M14.1,-152.9 C13.6,-147.6 10.6,-143.4 6.4,-141.2" fill="none" stroke="#222" stroke-width="0.9"/>
  <rect x="-4.5" y="-145.1" width="9" height="6.9" rx="1" fill="#161616" stroke="#111" stroke-width="0.6"/>
  <path d="M-3.4,-143 H3.4" stroke="#777" stroke-width="0.5" fill="none"/>
  <g transform="translate(0,-244.7)"><rect x="-24" y="0" width="48" height="3.8" fill="#fff" stroke="#222" stroke-width="0.9"/><rect x="-17.8" y="-7.2" width="35.6" height="7.2" fill="#fff" stroke="#333" stroke-width="0.8"/><rect x="-17.80" y="-6.6" width="3.0" height="6.6" fill="#3a3a3a"/><rect x="-12.52" y="-6.6" width="2.2" height="6.6" fill="#3a3a3a"/><rect x="-7.24" y="-6.6" width="2.2" height="6.6" fill="#3a3a3a"/><rect x="-1.96" y="-6.6" width="2.2" height="6.6" fill="#3a3a3a"/><rect x="3.32" y="-6.6" width="2.2" height="6.6" fill="#3a3a3a"/><rect x="8.60" y="-6.6" width="2.2" height="6.6" fill="#3a3a3a"/><rect x="14.80" y="-6.6" width="3.0" height="6.6" fill="#3a3a3a"/></g>
</g>
<circle cx="365.6" cy="770.7" r="42.9" fill="#fff" stroke="#222" stroke-width="1"/>
<circle cx="365.6" cy="770.9000000000001" r="6.9" fill="#fff" stroke="#222" stroke-width="1"/>

<!-- ===== numbered step markers ===== -->
<circle cx="177.5" cy="237.0" r="11.3" fill="none" stroke="#303030" stroke-width="2.4"/><text class="ser" x="177.5" y="243.3" font-size="19.5" text-anchor="middle" fill="#222">1</text>
<circle cx="222.6" cy="236.8" r="11.3" fill="none" stroke="#303030" stroke-width="2.4"/><text class="ser" x="222.6" y="243.1" font-size="19.5" text-anchor="middle" fill="#222">6</text>
<circle cx="429.4" cy="188.2" r="11.3" fill="none" stroke="#303030" stroke-width="2.4"/><text class="ser" x="429.4" y="194.5" font-size="19.5" text-anchor="middle" fill="#222">5</text>
<circle cx="415.4" cy="287.5" r="11.3" fill="none" stroke="#303030" stroke-width="2.4"/><text class="ser" x="415.4" y="293.8" font-size="19.5" text-anchor="middle" fill="#222">7</text>
<circle cx="422.9" cy="340.0" r="11.3" fill="none" stroke="#303030" stroke-width="2.4"/><text class="ser" x="422.9" y="346.3" font-size="19.5" text-anchor="middle" fill="#222">2</text>
<circle cx="599.3" cy="305.9" r="11.3" fill="none" stroke="#303030" stroke-width="2.4"/><text class="ser" x="599.3" y="312.2" font-size="19.5" text-anchor="middle" fill="#222">7</text>
<circle cx="274.6" cy="417.0" r="11.3" fill="none" stroke="#303030" stroke-width="2.4"/><text class="ser" x="274.6" y="423.3" font-size="19.5" text-anchor="middle" fill="#222">3</text>
<circle cx="364.7" cy="450.7" r="11.3" fill="none" stroke="#303030" stroke-width="2.4"/><text class="ser" x="364.7" y="457.0" font-size="19.5" text-anchor="middle" fill="#222">4</text>
<circle cx="173.3" cy="514.8" r="11.3" fill="none" stroke="#303030" stroke-width="2.4"/><text class="ser" x="173.3" y="521.1" font-size="19.5" text-anchor="middle" fill="#222">8</text>

<!-- ===== footer ===== -->
<rect x="1.5" y="955.8" width="711.5" height="44.2" fill="#fdf8f9"/>
<rect x="0" y="954.5" width="714" height="1.4" fill="#333"/>
<rect x="713" y="124" width="1" height="876" fill="#555"/>
<rect x="0" y="999" width="714" height="1" fill="#888"/>
<text class="dj" y="986.6" font-size="34" font-weight="bold" fill="#000" stroke="#000" stroke-width="0.35"><tspan x="5.5" textLength="160.0" lengthAdjust="spacingAndGlyphs">источник</tspan> <tspan x="183.5" textLength="94.5" lengthAdjust="spacingAndGlyphs">света</tspan> <tspan x="294.5" textLength="23.0" lengthAdjust="spacingAndGlyphs">в</tspan> <tspan x="327.5" textLength="168.5" lengthAdjust="spacingAndGlyphs">комплект</tspan> <tspan x="516.5" textLength="42.0" lengthAdjust="spacingAndGlyphs">не</tspan> <tspan x="577.0" textLength="124.5" lengthAdjust="spacingAndGlyphs">входит</tspan></text>

<!-- ===== watermark ===== -->
<text style="mix-blend-mode:multiply" x="121" y="513.8" font-size="52.8" font-weight="bold" fill="#e7dfdc" textLength="466.5" lengthAdjust="spacingAndGlyphs">www.svetodom.ru</text>

</svg>
</body>
</html>
